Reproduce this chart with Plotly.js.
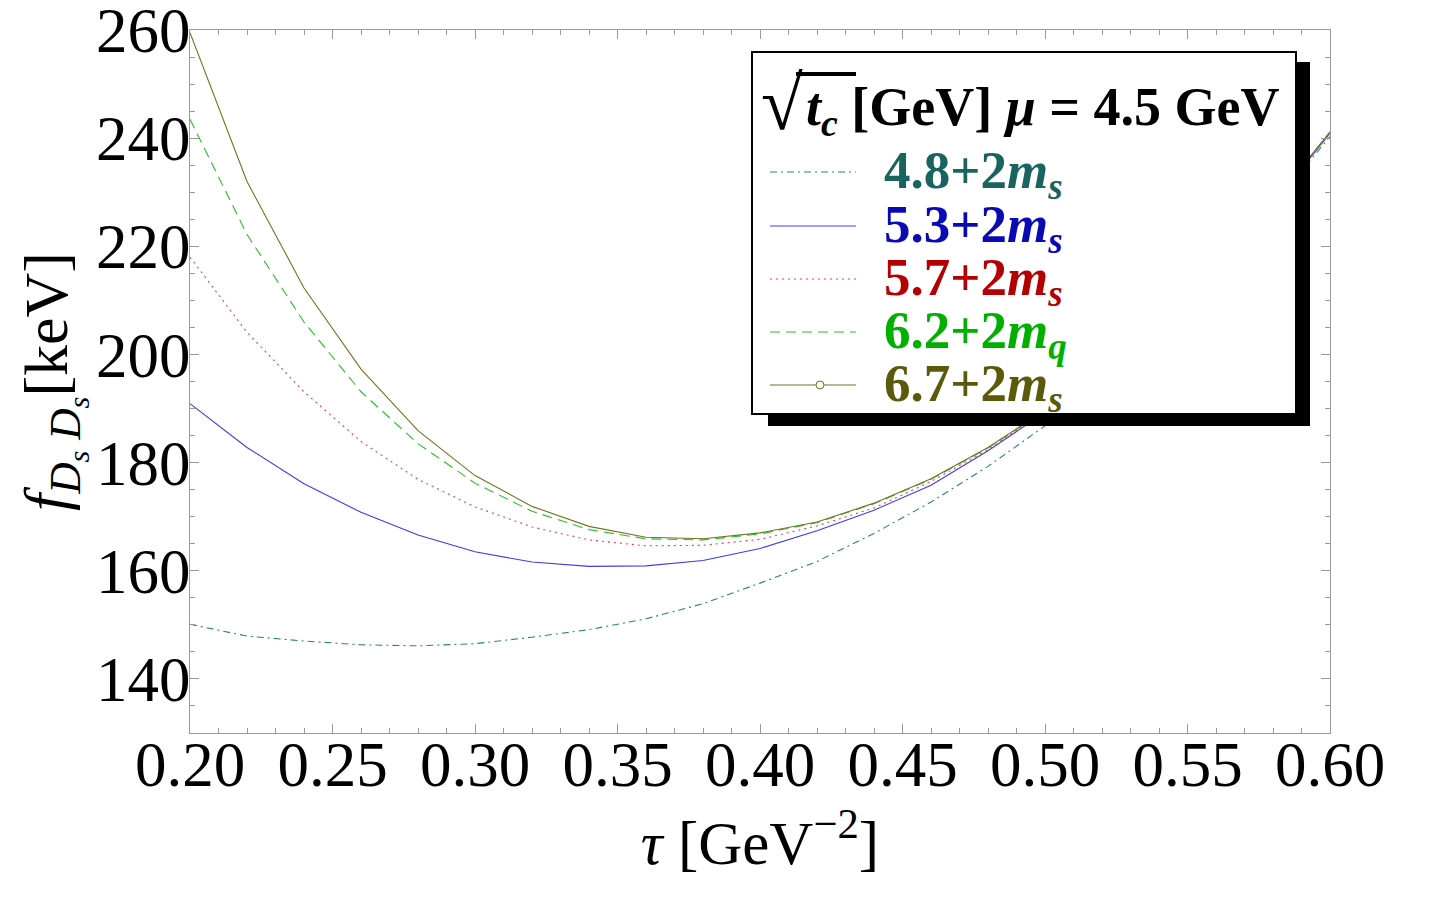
<!DOCTYPE html>
<html>
<head>
<meta charset="utf-8">
<script src="https://cdn.plot.ly/plotly-3.0.1.min.js"></script>
<style>html,body{margin:0;padding:0;background:#fff;}#chart{width:1444px;height:901px;}</style>
</head>
<body>
<div id="chart"></div>
<script>
// ---- data ----
var tau = [0.20,0.22,0.24,0.26,0.28,0.30,0.32,0.34,0.36,0.38,0.40,0.42,0.44,0.46,0.48,0.50,0.52,0.54,0.56,0.58,0.60];
var f48 = [150.1,147.9,147.0,146.3,146.1,146.5,147.7,149.1,151.1,153.9,157.7,161.7,166.9,172.7,179.3,186.8,195.3,205.0,215.9,227.7,240.3];
var f53 = [190.9,182.8,176.1,170.8,166.6,163.5,161.6,160.8,160.9,161.9,164.1,167.4,171.2,175.8,182.2,189.3,197.2,206.1,216.2,227.9,240.9];
var f57 = [218.0,204.1,193.1,183.9,176.9,171.8,168.1,165.7,164.6,164.7,165.8,168.3,171.6,176.5,182.4,189.5,197.3,206.1,216.2,228.0,241.0];
var f62 = [243.5,222.2,206.0,193.1,183.5,176.2,171.0,167.6,165.9,165.7,166.8,168.9,172.4,176.9,182.7,189.6,197.4,206.2,216.3,228.1,241.1];
var f67 = [259.5,232.0,212.3,197.3,185.9,177.6,171.9,168.2,166.2,165.9,167.0,169.0,172.5,177.0,182.8,189.7,197.4,206.2,216.3,228.1,241.2];

var seriesNames = ['4.8+2m_s','5.3+2m_s','5.7+2m_s','6.2+2m_q','6.7+2m_s'];
var legendLabels = [
  '<b>4.8+2<i>m</i><sub><i>s</i></sub></b>',
  '<b>5.3+2<i>m</i><sub><i>s</i></sub></b>',
  '<b>5.7+2<i>m</i><sub><i>s</i></sub></b>',
  '<b>6.2+2<i>m</i><sub><i>q</i></sub></b>',
  '<b>6.7+2<i>m</i><sub><i>s</i></sub></b>'
];
var legendTitleRoot = '<b>√</b>';
var legendTitleRest = '<b><i>t</i><sub><i>c</i></sub> [GeV] <i>μ</i> = 4.5 GeV</b>';
var xTickLabels = ['0.20','0.25','0.30','0.35','0.40','0.45','0.50','0.55','0.60'];
var yTickLabels = ['140','160','180','200','220','240','260'];

// ---- styles ----
var SERIF = 'Liberation Serif, Times New Roman, serif';
var allY = [f48, f53, f57, f62, f67];
var lineColors = ['rgb(45,130,125)','rgb(60,60,235)','rgb(235,60,80)','rgb(40,190,40)','rgb(115,115,35)'];
var textColors = ['rgb(25,100,95)','rgb(10,10,180)','rgb(180,0,0)','rgb(0,175,0)','rgb(90,90,10)'];
var dashes = ['7px,4px,2px,4px','solid','2px,4px','10px,6px','solid'];

var traces = allY.map(function(ys, i){
  return {x: tau, y: ys, type: 'scatter', mode: 'lines', name: seriesNames[i],
    line: {color: lineColors[i], width: 1.1, dash: dashes[i]}, showlegend: false, hoverinfo: 'skip'};
});

// pixel -> paper helpers (plot area 190..1330 x 30..733)
function px(x){ return (x - 190) / 1140; }
function py(y){ return (733 - y) / 703; }

var shapes = [
  {type:'rect', xref:'paper', yref:'paper', x0:px(768), x1:px(1310), y0:py(426), y1:py(62),
   fillcolor:'black', line:{width:0}, layer:'above'},
  {type:'rect', xref:'paper', yref:'paper', x0:px(752), x1:px(1296), y0:py(414), y1:py(52),
   fillcolor:'white', line:{color:'black', width:2}, layer:'above'}
];
var annotations = [
  {xref:'paper', yref:'paper', x:px(760), y:py(103), xanchor:'left', yanchor:'middle', showarrow:false,
   text: legendTitleRoot, font:{family:SERIF, size:76, color:'black'}, borderpad:0},
  {xref:'paper', yref:'paper', x:px(805), y:py(110), xanchor:'left', yanchor:'middle', showarrow:false,
   text: legendTitleRest, font:{family:SERIF, size:54, color:'black'}, borderpad:0}
];
var rowY = [172, 226, 279, 332, 385];
for (var i = 0; i < 5; i++) {
  shapes.push({type:'line', xref:'paper', yref:'paper', x0:px(770), x1:px(856), y0:py(rowY[i]), y1:py(rowY[i]),
    line:{color:lineColors[i], width:1.1, dash:dashes[i]}, layer:'above'});
  annotations.push({xref:'paper', yref:'paper', x:px(882), y:py(rowY[i]+2), xanchor:'left', yanchor:'middle',
    showarrow:false, text: legendLabels[i], font:{family:SERIF, size:53, color:textColors[i]}});
}
shapes.push({type:'circle', xref:'paper', yref:'paper', x0:px(816), x1:px(824), y0:py(rowY[4]+4), y1:py(rowY[4]-4),
  line:{color:lineColors[4], width:1}, fillcolor:'white', layer:'above'});
// overline of the square root
shapes.push({type:'line', xref:'paper', yref:'paper', x0:px(796), x1:px(856), y0:py(74), y1:py(74),
  line:{color:'black', width:4}, layer:'above'});

var axisCommon = {
  showgrid:false, zeroline:false, showline:true, linecolor:'#9a9a9a', linewidth:1,
  mirror:'ticks', ticks:'inside', ticklen:9, tickcolor:'#9a9a9a', tickwidth:1,
  ticklabeloverflow:'allow'
};
var layout = {
  width:1444, height:901,
  margin:{l:190, r:114, t:30, b:168},
  paper_bgcolor:'white', plot_bgcolor:'white',
  showlegend:false,
  xaxis: Object.assign({}, axisCommon, {
    range:[0.2, 0.6], tickmode:'array', tickvals: xTickLabels.map(Number), ticktext: xTickLabels,
    minor:{dtick:0.01, tick0:0.2, ticks:'inside', ticklen:5, tickcolor:'#9a9a9a', showgrid:false},
    tickfont:{family:SERIF, size:63, color:'black'}, ticklabelstandoff:-24,
    title:{text:'<i>τ</i> [GeV<sup>−2</sup>]', font:{family:SERIF, size:61, color:'black'}, standoff:22}
  }),
  yaxis: Object.assign({}, axisCommon, {
    range:[129.98, 260.02], tickmode:'array', tickvals: yTickLabels.map(Number), ticktext: yTickLabels,
    minor:{dtick:5, tick0:0, ticks:'inside', ticklen:5, tickcolor:'#9a9a9a', showgrid:false},
    tickfont:{family:SERIF, size:63, color:'black'}, ticklabelstandoff:-14,
    title:{text:'<i>f</i><sub><i>D</i><sub><i>s</i></sub> <i>D</i><sub><i>s</i></sub></sub>[keV]', font:{family:SERIF, size:62, color:'black'}, standoff:4}
  }),
  shapes: shapes,
  annotations: annotations
};
Plotly.newPlot('chart', traces, layout, {staticPlot:true, displayModeBar:false});
</script>
</body>
</html>
